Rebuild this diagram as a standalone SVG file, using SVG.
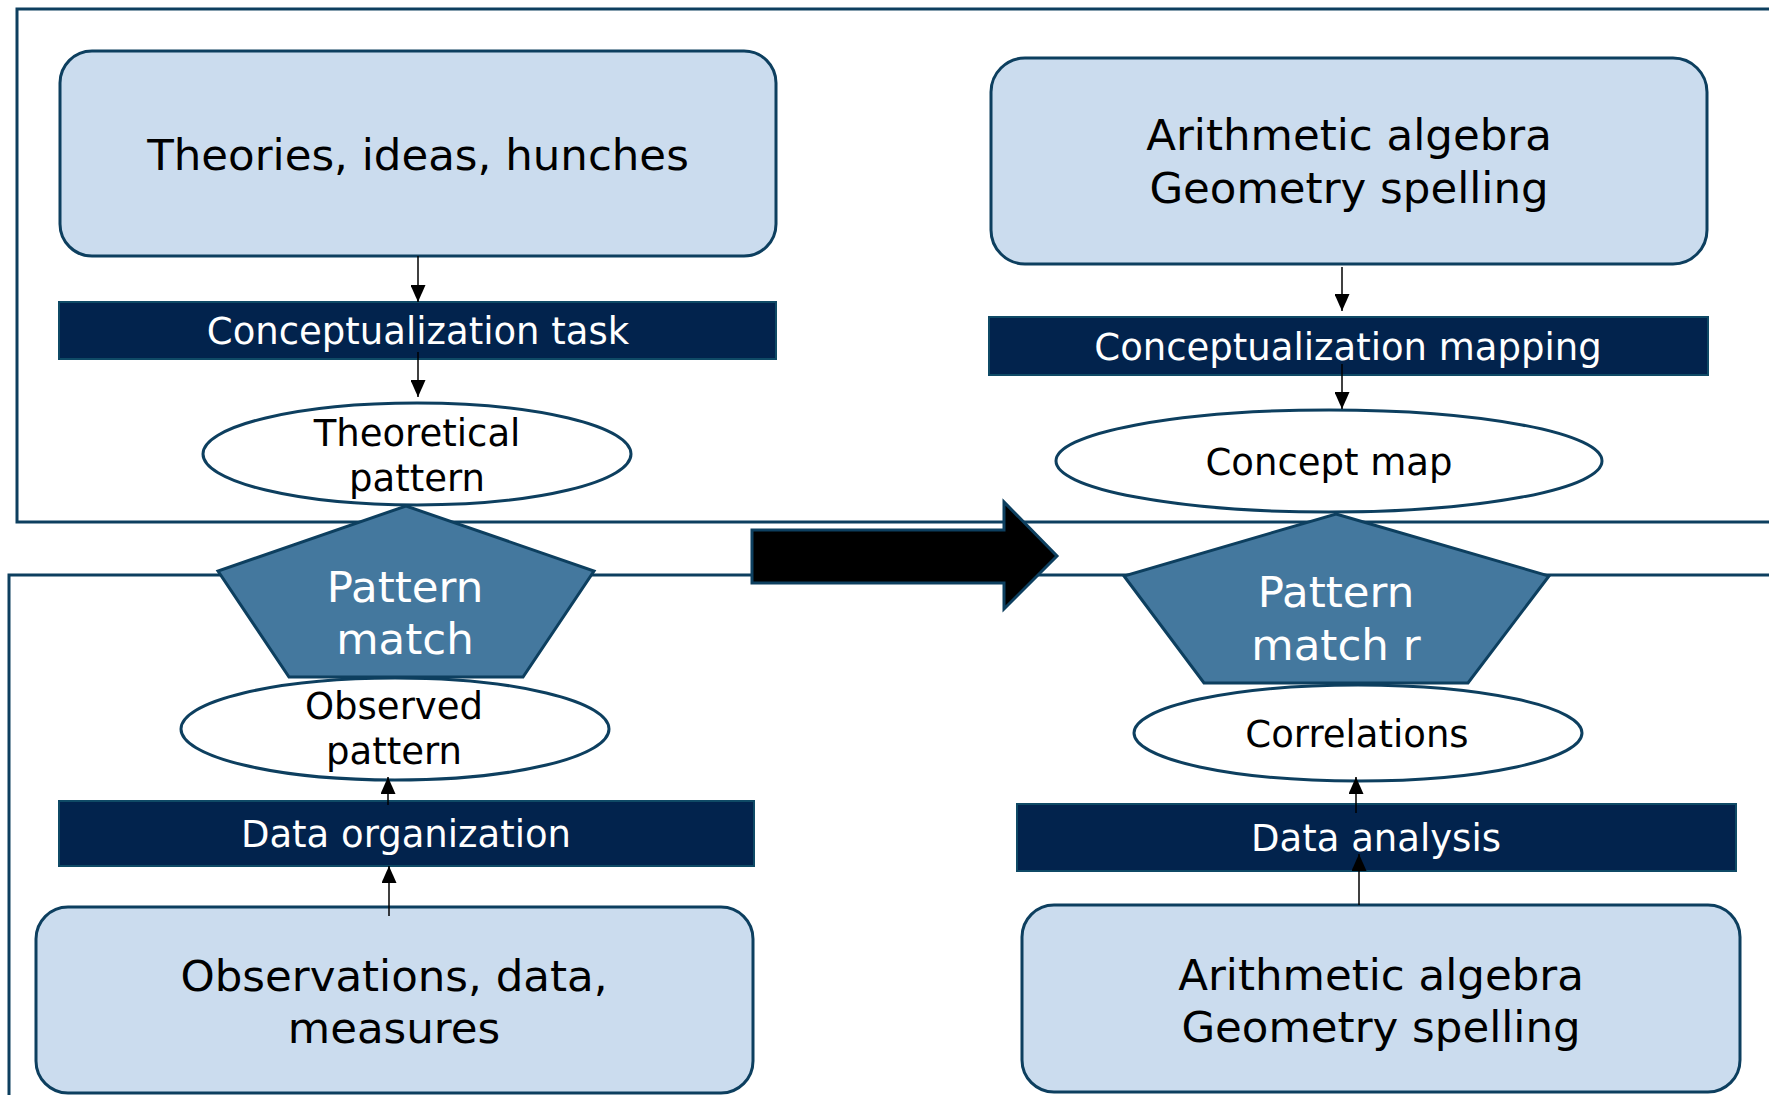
<svg xmlns="http://www.w3.org/2000/svg" width="1769" height="1095" viewBox="0 0 1769 1095">
<defs>
<style>
.cont{fill:none;stroke:#0d3f5f;stroke-width:3}
.box{fill:#cbdcee;stroke:#0d3f5f;stroke-width:3}
.bar{fill:#02234d;stroke:#0f4a66;stroke-width:2}
.ell{fill:#ffffff;stroke:#0d3f5f;stroke-width:3}
.pent{fill:#44789e;stroke:#0d3f5f;stroke-width:3}
.big{font-family:"DejaVu Sans",Verdana,sans-serif;font-size:43.5px;fill:#000;text-anchor:middle}
.pt{font-family:"DejaVu Sans",Verdana,sans-serif;font-size:43.5px;fill:#fff;text-anchor:middle}
.bt{font-family:"DejaVu Sans",Verdana,sans-serif;font-size:37px;fill:#fff;text-anchor:middle}
.et{font-family:"DejaVu Sans",Verdana,sans-serif;font-size:37px;fill:#000;text-anchor:middle}
.con{stroke:#000;stroke-width:1.5;fill:none;marker-end:url(#ah)}
</style>
<marker id="ah" markerUnits="userSpaceOnUse" markerWidth="17" markerHeight="15" refX="17" refY="7.5" orient="auto" viewBox="0 0 17 15">
<path d="M0,0 L17,7.5 L0,15 z" fill="#000"/>
</marker>
</defs>
<g id="containers">
<rect id="top-panel" class="cont" x="17" y="9" width="1800" height="513"/>
<rect id="bottom-panel" class="cont" x="9" y="575" width="1800" height="600"/>
</g>
<g id="theories">
<rect class="box" x="60" y="51" width="716" height="205" rx="32"/>
<text class="big" x="418" y="170">Theories, ideas, hunches</text>
</g>
<g id="concept-task">
<rect class="bar" x="59" y="302" width="717" height="57"/>
<text class="bt" x="418" y="344">Conceptualization task</text>
</g>
<g id="theoretical-pattern">
<ellipse class="ell" cx="417" cy="454" rx="214" ry="51"/>
<text class="et" x="417" y="446">Theoretical</text>
<text class="et" x="417" y="491">pattern</text>
</g>
<g id="arith-top">
<rect class="box" x="991" y="58" width="716" height="206" rx="34"/>
<text class="big" x="1349" y="150">Arithmetic algebra</text>
<text class="big" x="1349" y="203">Geometry spelling</text>
</g>
<g id="concept-mapping">
<rect class="bar" x="989" y="317" width="719" height="58"/>
<text class="bt" x="1348" y="360">Conceptualization mapping</text>
</g>
<g id="concept-map">
<ellipse class="ell" cx="1329" cy="461" rx="273" ry="51"/>
<text class="et" x="1329" y="475">Concept map</text>
</g>
<g id="observations">
<rect class="box" x="36" y="907" width="717" height="186" rx="32"/>
<text class="big" x="394" y="991">Observations, data,</text>
<text class="big" x="394" y="1043">measures</text>
</g>
<g id="data-organization">
<rect class="bar" x="59" y="801" width="695" height="65"/>
<text class="bt" x="406" y="847">Data organization</text>
</g>
<g id="observed-pattern">
<ellipse class="ell" cx="395" cy="729" rx="214" ry="51"/>
<text class="et" x="394" y="719">Observed</text>
<text class="et" x="394" y="764">pattern</text>
</g>
<g id="arith-bottom">
<rect class="box" x="1022" y="905" width="718" height="187" rx="32"/>
<text class="big" x="1381" y="990">Arithmetic algebra</text>
<text class="big" x="1381" y="1042">Geometry spelling</text>
</g>
<g id="data-analysis">
<rect class="bar" x="1017" y="804" width="719" height="67"/>
<text class="bt" x="1376" y="851">Data analysis</text>
</g>
<g id="correlations">
<ellipse class="ell" cx="1358" cy="733" rx="224" ry="48"/>
<text class="et" x="1357" y="747">Correlations</text>
</g>
<g id="pattern-match">
<polygon class="pent" points="406,506 594,571 523,677 289,677 218,571"/>
<text class="pt" x="405" y="602">Pattern</text>
<text class="pt" x="405" y="654">match</text>
</g>
<g id="pattern-match-r">
<polygon class="pent" points="1336,514 1549,576 1468,683 1204,683 1124,576"/>
<text class="pt" x="1336" y="607">Pattern</text>
<text class="pt" x="1336" y="660">match r</text>
</g>
<g id="big-arrow">
<polygon points="752,530 1004,530 1004,502 1057,556 1004,609 1004,583 752,583" fill="#000" stroke="#0d3f5f" stroke-width="3"/>
</g>
<g id="connectors">
<line class="con" x1="418" y1="256" x2="418" y2="302"/>
<line class="con" x1="418" y1="352" x2="418" y2="397"/>
<line class="con" x1="389" y1="916" x2="389" y2="866"/>
<line class="con" x1="388" y1="805" x2="388" y2="777"/>
<line class="con" x1="1342" y1="267" x2="1342" y2="311"/>
<line class="con" x1="1342" y1="364" x2="1342" y2="409"/>
<line class="con" x1="1359" y1="905" x2="1359" y2="854"/>
<line class="con" x1="1356" y1="813" x2="1356" y2="777"/>
</g>
</svg>
